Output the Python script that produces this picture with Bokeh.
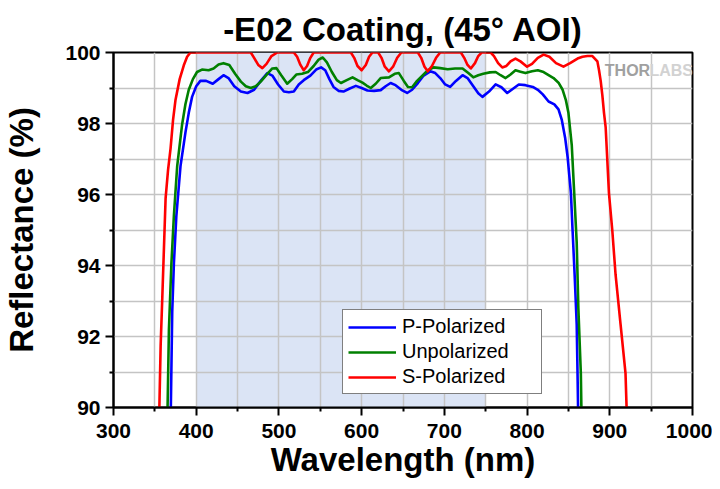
from bokeh.plotting import figure
from bokeh.models import Range1d, FixedTicker, BoxAnnotation, Legend, LegendItem, Label
from bokeh.embed import file_html
from bokeh.resources import INLINE

# ---- data ----
wl_p = [369, 371, 373, 376, 381, 387, 391, 395, 400, 405, 412, 420, 427, 433, 439, 446, 454, 462, 470, 478,
        486, 492, 499, 506, 512, 518, 524, 530, 538, 545, 551, 556, 561, 566, 572, 578, 585, 593, 600, 607,
        615, 623, 629, 635, 641, 648, 655, 661, 668, 675, 683, 689, 695, 701, 707, 714, 722, 728, 735, 741,
        746, 754, 762, 769, 776, 783, 790, 798, 807, 813, 819, 826, 833, 838, 842, 846, 849, 853, 855, 857.5,
        860, 861, 862]
refl_p = [89.5, 92.7, 94.05, 95.4, 96.8, 97.75, 98.3, 98.75, 99.05, 99.2, 99.2, 99.12, 99.25, 99.36, 99.28, 99.05, 98.9, 98.86, 98.95, 99.2,
          99.42, 99.35, 99.1, 98.9, 98.88, 98.9, 99.1, 99.22, 99.35, 99.52, 99.58, 99.5, 99.25, 99.03, 98.92, 98.9, 98.98, 99.06, 99.0, 98.93,
          98.92, 98.94, 99.05, 99.14, 99.08, 98.95, 98.86, 98.95, 99.14, 99.35, 99.47, 99.42, 99.28, 99.1, 99.03, 99.2, 99.36, 99.28, 99.05, 98.85,
          98.75, 98.9, 99.1, 99.02, 98.86, 98.98, 99.1, 99.08, 99.03, 98.95, 98.82, 98.62, 98.54, 98.4, 98.1, 97.6, 97.06, 96.04, 95.0, 93.74,
          92.35, 90.97, 89.5]

wl_u = [365, 367, 370, 373, 377, 383, 387, 391, 396, 401, 407, 415, 421, 427, 433, 440, 447, 454, 460, 466,
        472, 478, 486, 492, 497, 503, 510, 516, 521, 528, 535, 542, 548, 553, 558, 564, 570, 575, 582, 589,
        595, 601, 606, 611, 617, 623, 633, 640, 645, 651, 656, 661, 667, 674, 680, 687, 695, 704, 713, 722,
        729, 735, 741, 747, 755, 762, 768, 774, 780, 786, 792, 798, 806, 813, 820, 827, 832, 838, 843, 847,
        850, 854, 857, 860, 862, 865, 866]
refl_u = [89.5, 92.2, 94.05, 95.4, 96.8, 97.98, 98.55, 98.95, 99.25, 99.45, 99.52, 99.5, 99.55, 99.66, 99.7, 99.65, 99.4, 99.18, 99.05, 99.0,
          99.05, 99.18, 99.4, 99.55, 99.56, 99.35, 99.12, 99.25, 99.38, 99.4, 99.45, 99.62, 99.8, 99.86, 99.72, 99.45, 99.22, 99.14, 99.22, 99.3,
          99.22, 99.15, 99.07, 99.0, 99.12, 99.28, 99.3, 99.4, 99.42, 99.2, 99.03, 99.02, 99.2, 99.36, 99.5, 99.58, 99.56, 99.53, 99.55, 99.55,
          99.42, 99.3, 99.36, 99.4, 99.44, 99.45, 99.36, 99.28, 99.38, 99.5, 99.46, 99.42, 99.47, 99.5, 99.45, 99.35, 99.28, 99.15, 98.95, 98.65,
          98.3, 97.4, 96.04, 94.65, 92.8, 90.97, 89.5]

wl_s = [355, 357, 359, 361, 363, 366, 369, 372, 375, 380, 385, 389, 393, 466, 470, 475, 480, 485, 491, 498,
        518, 522, 526, 530, 534, 538, 542, 587, 591, 595, 600, 605, 609, 613, 620, 624, 628, 633, 638, 643,
        648, 668, 672, 676, 680, 685, 690, 695, 720, 724, 728, 732, 737, 741, 745, 756, 760, 765, 770, 775,
        780, 786, 792, 800, 806, 813, 820, 827, 835, 844, 852, 861, 867, 873, 879, 885, 887, 889, 891, 893,
        895, 899, 903, 907, 913, 919, 921]
refl_s = [89.5, 91.75, 93.1, 94.5, 95.9, 96.7, 97.3, 98.1, 98.67, 99.25, 99.64, 99.88, 100, 100, 99.85, 99.65, 99.56, 99.68, 99.9, 100,
          100, 99.88, 99.65, 99.5, 99.62, 99.85, 100, 100, 99.85, 99.62, 99.5, 99.65, 99.88, 100, 100, 99.85, 99.6, 99.47, 99.6, 99.85,
          100, 100, 99.85, 99.6, 99.47, 99.62, 99.85, 100, 100, 99.85, 99.65, 99.55, 99.7, 99.9, 100, 100, 99.9, 99.7, 99.58, 99.62,
          99.75, 99.83, 99.75, 99.6, 99.68, 99.85, 99.94, 99.88, 99.7, 99.6, 99.7, 99.83, 99.88, 99.9, 99.9, 99.75, 99.5, 99.2, 98.8, 98.3,
          97.9, 96.04, 95.0, 93.74, 92.35, 90.97, 89.5]

x_ticks = [300, 400, 500, 600, 700, 800, 900, 1000]
x_minor = [350, 450, 550, 650, 750, 850, 950]
y_ticks = [90, 92, 94, 96, 98, 100]
y_minor = [91, 93, 95, 97, 99]
band = [400, 750]

series_names = ["P-Polarized", "Unpolarized", "S-Polarized"]
series_colors = ["#0000ff", "#008000", "#ff0000"]

FONT = "Liberation Sans"

p = figure(width=712, height=481, x_range=Range1d(300, 1000), y_range=Range1d(90, 100),
           output_backend="svg", toolbar_location=None,
           min_border_left=113, min_border_right=20, min_border_top=52, min_border_bottom=74)
p.background_fill_color = "white"
p.border_fill_color = "white"
p.outline_line_color = "black"
p.outline_line_width = 2

p.title.text = "-E02 Coating, (45° AOI)"
p.title.align = "center"
p.title.text_font = FONT
p.title.text_font_style = "bold"
p.title.text_font_size = "33px"
p.title.text_color = "black"
p.title.standoff = 10

# shaded band
p.add_layout(BoxAnnotation(left=band[0], right=band[1], fill_color="#dbe4f5", fill_alpha=1.0,
                           line_alpha=0, level="image"))

# grid
p.xgrid.ticker = FixedTicker(ticks=sorted(x_ticks + x_minor))
p.ygrid.ticker = FixedTicker(ticks=sorted(y_ticks + y_minor))
for g in (p.xgrid, p.ygrid):
    g.grid_line_color = "#c4c4c4"
    g.grid_line_width = 1.5

# axes
p.xaxis.ticker = FixedTicker(ticks=x_ticks, minor_ticks=x_minor)
p.yaxis.ticker = FixedTicker(ticks=y_ticks, minor_ticks=y_minor)
p.xaxis.axis_label = "Wavelength (nm)"
p.yaxis.axis_label = "Reflectance (%)"
for ax in (p.xaxis[0], p.yaxis[0]):
    ax.axis_line_width = 2
    ax.axis_line_color = "black"
    ax.major_tick_line_width = 2
    ax.minor_tick_line_width = 2
    ax.major_tick_out = 8
    ax.major_tick_in = 0
    ax.minor_tick_out = 4
    ax.minor_tick_in = 0
    ax.major_label_text_font = FONT
    ax.major_label_text_font_style = "bold"
    ax.major_label_text_font_size = "21px"
    ax.major_label_text_color = "black"
    ax.axis_label_text_font = FONT
    ax.axis_label_text_font_style = "bold"
    ax.axis_label_text_font_size = "33px"
    ax.axis_label_text_color = "black"
p.yaxis.major_label_standoff = 5
p.xaxis.major_label_standoff = 8
p.xaxis.axis_label_standoff = 0
p.yaxis.axis_label_standoff = 22

# curves
renderers = []
for wl, rf, col in ((wl_p, refl_p, series_colors[0]), (wl_u, refl_u, series_colors[1]), (wl_s, refl_s, series_colors[2])):
    renderers.append(p.line(wl, rf, line_color=col, line_width=2.6, line_join="round"))

legend = Legend(items=[LegendItem(label=n, renderers=[r]) for n, r in zip(series_names, renderers)],
                location=(229, 13), orientation="vertical")
legend.label_text_font = FONT
legend.label_text_font_size = "20px"
legend.label_text_color = "black"
legend.glyph_width = 48
legend.glyph_height = 18
legend.label_height = 18
legend.label_width = 134
legend.label_standoff = 6
legend.padding = 5
legend.spacing = 2
legend.margin = 0
legend.border_line_color = "black"
legend.border_line_width = 1
legend.background_fill_color = "white"
legend.background_fill_alpha = 1.0
p.add_layout(legend, "center")

# watermark
p.add_layout(Label(x=894, y=99.5, text="THOR", text_font=FONT, text_font_style="bold",
                   text_font_size="16px", text_color="#a0a0a0", text_baseline="middle"))
p.add_layout(Label(x=948, y=99.5, text="LABS", text_font=FONT, text_font_style="bold",
                   text_font_size="16px", text_color="#d2d2d2", text_baseline="middle"))

open("out.html", "w").write(file_html(p, INLINE))
